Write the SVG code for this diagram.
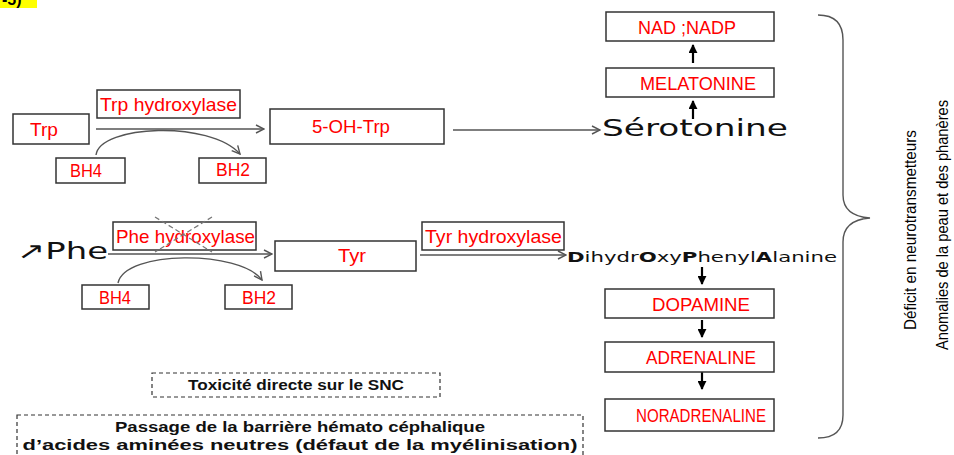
<svg xmlns="http://www.w3.org/2000/svg" width="954" height="455" viewBox="0 0 954 455">
<defs>
<style>
.box{fill:#fff;stroke:#333;stroke-width:1.5}
.dbox{fill:#fff;stroke:#333;stroke-width:1.2;stroke-dasharray:4 3}
.red{fill:#ff0000;font-family:"Liberation Sans",Arial,sans-serif;font-size:19px}
.line{fill:none;stroke:#555;stroke-width:1.4}
.blk{fill:none;stroke:#000;stroke-width:2.2}
.bold{font-family:"Liberation Sans",Arial,sans-serif;font-weight:bold;font-size:14px;fill:#111}
.vt{font-family:"Liberation Sans",Arial,sans-serif;font-size:17px;fill:#000}
</style>
<marker id="open" viewBox="0 0 10 10" refX="9" refY="5" markerWidth="10" markerHeight="10" markerUnits="userSpaceOnUse" orient="auto">
<path d="M1,1 L9,5 L1,9" fill="none" stroke="#555" stroke-width="1.4"/>
</marker>
<marker id="solid" viewBox="0 0 10 10" refX="9" refY="5" markerWidth="9" markerHeight="9" markerUnits="userSpaceOnUse" orient="auto">
<path d="M0,0 L10,5 L0,10 Z" fill="#000"/>
</marker>
</defs>
<rect width="954" height="455" fill="#fff"/>
<g id="corner">
<rect x="0" y="0" width="37" height="8" fill="#ffff00"/>
<text x="2" y="5" font-family="Liberation Sans,Arial,sans-serif" font-weight="bold" font-size="16" fill="#000">-5)</text>
</g>
<g id="connectors">
<line class="line" x1="96" y1="129" x2="264" y2="129" marker-end="url(#open)"/>
<line class="line" x1="453" y1="130" x2="600" y2="130" marker-end="url(#open)"/>
<path class="line" d="M96,155 C100,125 210,120 240,154" marker-end="url(#open)"/>
<line class="line" x1="108" y1="254" x2="272" y2="254" marker-end="url(#open)"/>
<path class="line" d="M118,283 C125,250 240,250 262,280" marker-end="url(#open)"/>
<line class="line" x1="420" y1="255" x2="566" y2="255" marker-end="url(#open)"/>
<line class="blk" x1="693" y1="63" x2="693" y2="45" marker-end="url(#solid)"/>
<line class="blk" x1="693" y1="119" x2="693" y2="101" marker-end="url(#solid)"/>
<line class="blk" x1="702" y1="267" x2="702" y2="284" marker-end="url(#solid)"/>
<line class="blk" x1="702" y1="320" x2="702" y2="337" marker-end="url(#solid)"/>
<line class="blk" x1="702" y1="372" x2="702" y2="389" marker-end="url(#solid)"/>
<path class="line" d="M818,15 Q843,15 843,40 L843,195 Q843,216 870,218 Q843,220 843,242 L843,415 Q843,438 818,438"/>
</g>
<g id="trp"><rect class="box" x="13" y="114" width="76" height="30"/><text class="red" x="30" y="136" textLength="28" lengthAdjust="spacingAndGlyphs">Trp</text></g>
<g id="trp-hydroxylase"><rect class="box" x="97" y="90" width="143" height="28"/><text class="red" x="100" y="111" textLength="137" lengthAdjust="spacingAndGlyphs">Trp hydroxylase</text></g>
<g id="oh-trp"><rect class="box" x="270" y="109" width="174" height="35"/><text class="red" x="312" y="133" textLength="78" lengthAdjust="spacingAndGlyphs">5-OH-Trp</text></g>
<g id="bh4-1"><rect class="box" x="56" y="158" width="69" height="25"/><text class="red" x="70" y="177" textLength="32" lengthAdjust="spacingAndGlyphs">BH4</text></g>
<g id="bh2-1"><rect class="box" x="199" y="158" width="67" height="25"/><text class="red" x="216" y="176" textLength="34" lengthAdjust="spacingAndGlyphs">BH2</text></g>
<g id="serotonine"><text x="602" y="136" font-family="DejaVu Sans,sans-serif" font-size="23" fill="#111" textLength="186" lengthAdjust="spacingAndGlyphs">Sérotonine</text></g>
<g id="melatonine"><rect class="box" x="606" y="68" width="168" height="29"/><text class="red" x="640" y="90" textLength="116" lengthAdjust="spacingAndGlyphs">MELATONINE</text></g>
<g id="nad"><rect class="box" x="606" y="12" width="168" height="29"/><text class="red" x="638" y="34" textLength="98" lengthAdjust="spacingAndGlyphs">NAD ;NADP</text></g>
<g id="phe"><text x="17" y="259" font-family="DejaVu Sans,sans-serif" font-size="23" fill="#111" textLength="91" lengthAdjust="spacingAndGlyphs">↗Phe</text></g>
<g id="phe-hydroxylase"><rect class="box" x="113" y="222" width="143" height="28"/><text class="red" x="116" y="243" textLength="139" lengthAdjust="spacingAndGlyphs">Phe hydroxylase</text>
<line x1="155" y1="217" x2="212" y2="252" stroke="#777" stroke-width="1.2" stroke-dasharray="5 3"/>
<line x1="212" y1="217" x2="155" y2="252" stroke="#777" stroke-width="1.2" stroke-dasharray="5 3"/></g>
<g id="tyr"><rect class="box" x="275" y="241" width="141" height="30"/><text class="red" x="338" y="262" textLength="28" lengthAdjust="spacingAndGlyphs">Tyr</text></g>
<g id="bh4-2"><rect class="box" x="82" y="285" width="67" height="24"/><text class="red" x="99" y="304" textLength="32" lengthAdjust="spacingAndGlyphs">BH4</text></g>
<g id="bh2-2"><rect class="box" x="225" y="285" width="67" height="24"/><text class="red" x="242" y="304" textLength="34" lengthAdjust="spacingAndGlyphs">BH2</text></g>
<g id="tyr-hydroxylase"><rect class="box" x="422" y="222" width="142" height="28"/><text class="red" x="425" y="243" textLength="137" lengthAdjust="spacingAndGlyphs">Tyr hydroxylase</text></g>
<g id="dopa"><text x="567" y="262" font-family="DejaVu Sans,sans-serif" font-size="14" fill="#111" textLength="270" lengthAdjust="spacingAndGlyphs"><tspan font-weight="bold">D</tspan>ihydr<tspan font-weight="bold">O</tspan>xy<tspan font-weight="bold">P</tspan>henyl<tspan font-weight="bold">A</tspan>lanine</text></g>
<g id="dopamine"><rect class="box" x="605" y="289" width="169" height="29"/><text class="red" x="652" y="311" textLength="98" lengthAdjust="spacingAndGlyphs">DOPAMINE</text></g>
<g id="adrenaline"><rect class="box" x="605" y="342" width="169" height="30"/><text class="red" x="646" y="364" textLength="110" lengthAdjust="spacingAndGlyphs">ADRENALINE</text></g>
<g id="noradrenaline"><rect class="box" x="605" y="399" width="169" height="32"/><text class="red" x="636" y="422" textLength="130" lengthAdjust="spacingAndGlyphs">NORADRENALINE</text></g>
<g id="effects">
<text class="vt" transform="translate(916,230) rotate(-90)" text-anchor="middle" textLength="200" lengthAdjust="spacingAndGlyphs">Déficit en  neurotransmetteurs</text>
<text class="vt" transform="translate(948,225) rotate(-90)" text-anchor="middle" textLength="250" lengthAdjust="spacingAndGlyphs">Anomalies de la peau et des phanères</text>
</g>
<g id="toxicite"><rect class="dbox" x="152" y="373" width="288" height="24"/><text class="bold" x="296" y="390" text-anchor="middle" textLength="216" lengthAdjust="spacingAndGlyphs">Toxicité directe sur le SNC</text></g>
<g id="passage"><rect class="dbox" x="17" y="415" width="566" height="45"/>
<text class="bold" x="300" y="432" text-anchor="middle" font-size="15" textLength="370" lengthAdjust="spacingAndGlyphs">Passage de la barrière hémato céphalique</text>
<text class="bold" x="300" y="450" text-anchor="middle" font-size="15" textLength="555" lengthAdjust="spacingAndGlyphs">d’acides aminées neutres (défaut de la myélinisation)</text></g>
</svg>
